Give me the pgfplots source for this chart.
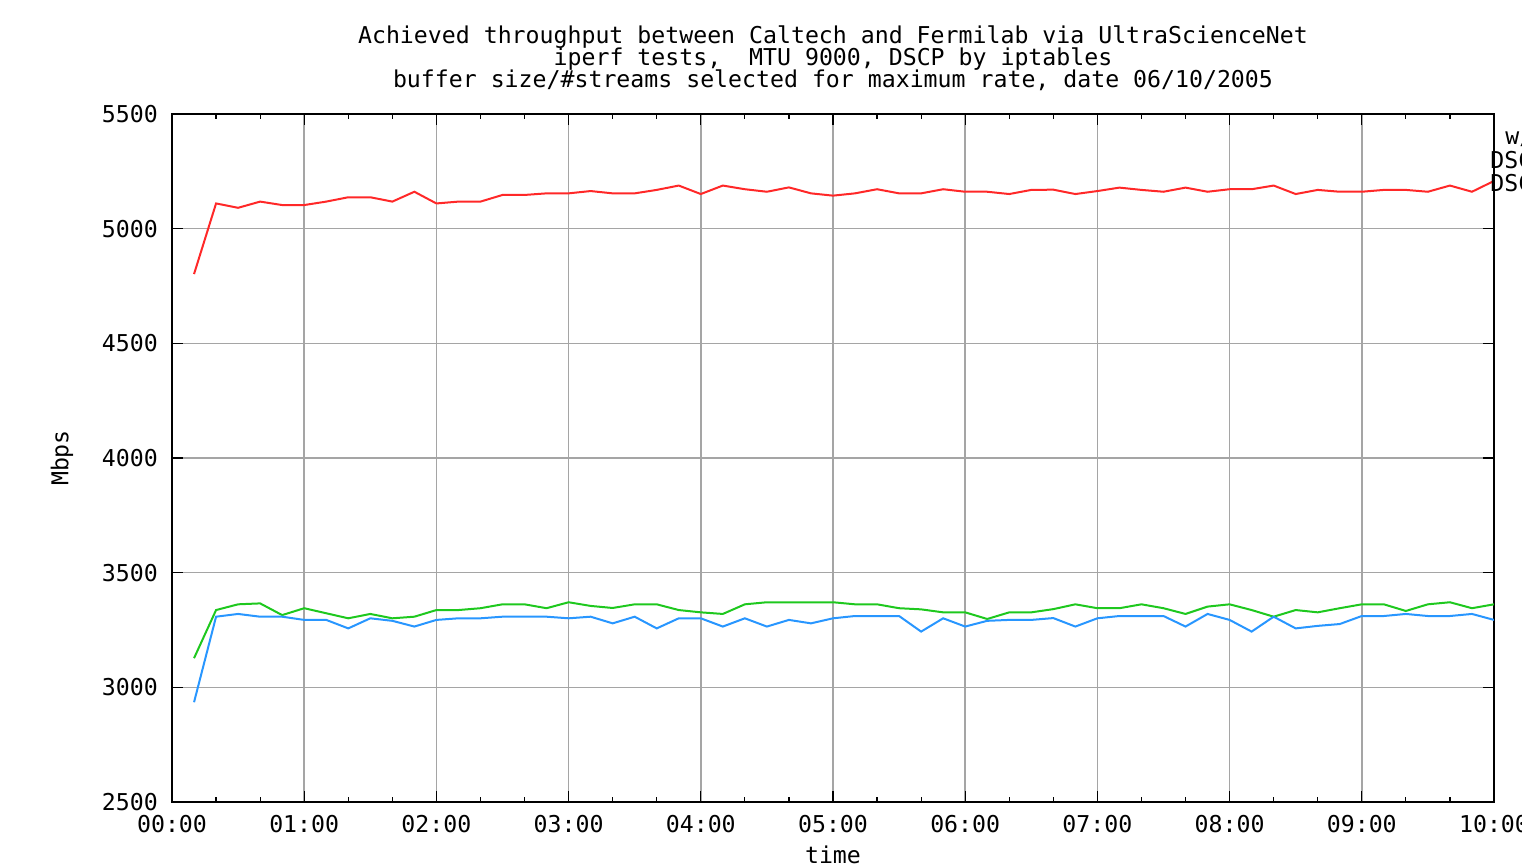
\documentclass[border=0pt]{standalone}
\usepackage{pgfplots}
\pgfplotsset{compat=1.18}
\usepackage{pgfplotstable}
\usepackage{fontspec}
\setmainfont{DejaVu Sans Mono}
\setmonofont{DejaVu Sans Mono}
\definecolor{cred}{RGB}{255,40,40}
\definecolor{cgreen}{RGB}{30,200,30}
\definecolor{cblue}{RGB}{40,150,255}
\definecolor{cgrid}{RGB}{165,165,165}
\pgfplotstableread{
t red green blue
10 4802 3127 2935
20 5110 3337 3308
30 5091 3362 3320
40 5118 3366 3308
50 5103 3315 3308
60 5103 3345 3294
70 5118 3323 3294
80 5137 3301 3257
90 5137 3320 3301
100 5118 3301 3290
110 5161 3308 3265
120 5110 3337 3294
130 5118 3337 3301
140 5118 3345 3301
150 5147 3362 3308
160 5147 3362 3308
170 5154 3345 3308
180 5154 3371 3301
190 5164 3355 3308
200 5154 3346 3279
210 5154 3362 3308
220 5169 3362 3257
230 5188 3337 3301
240 5151 3327 3301
250 5188 3320 3265
260 5172 3362 3301
270 5161 3371 3265
280 5180 3371 3294
290 5154 3371 3279
300 5144 3371 3301
310 5154 3362 3311
320 5172 3362 3311
330 5154 3345 3311
340 5154 3340 3243
350 5172 3327 3301
360 5161 3327 3265
370 5161 3298 3290
380 5151 3327 3294
390 5169 3327 3294
400 5170 3341 3302
410 5151 3362 3265
420 5164 3345 3301
430 5179 3345 3311
440 5169 3362 3311
450 5161 3345 3311
460 5179 3320 3265
470 5161 3352 3320
480 5172 3362 3294
490 5172 3337 3243
500 5188 3308 3308
510 5151 3337 3257
520 5169 3327 3268
530 5161 3345 3276
540 5161 3362 3311
550 5169 3362 3311
560 5169 3333 3320
570 5161 3362 3311
580 5188 3371 3311
590 5161 3345 3320
600 5208 3362 3294
}\datatable
\begin{document}
\fontsize{11.6}{11}\selectfont
\begin{tikzpicture}
\useasboundingbox (-86pt,-30.5pt) rectangle (675pt,401pt);
\clip (-86pt,-30.5pt) rectangle (675pt,401pt);
\begin{axis}[
  scale only axis,
  width=661pt, height=344pt,
  xmin=0, xmax=600, ymin=2500, ymax=5500,
  xtick={0,60,...,600},
  xticklabels={00:00,01:00,02:00,03:00,04:00,05:00,06:00,07:00,08:00,09:00,10:00},
  minor x tick num=2,
  ytick={2500,3000,...,5500},
  /pgf/number format/assume math mode=true,
  /pgf/number format/1000 sep={},
  tick label style={font=\fontsize{11.6}{11}\selectfont},
  xticklabel style={yshift=-2.5pt},
  yticklabel style={xshift=-3pt},
  xmajorgrids, ymajorgrids,
  major grid style={cgrid, line width=0.75pt},
  tick align=inside,
  major tick length=5.5pt,
  minor tick length=2.5pt,
  tick style={black, line width=0.6pt},
  axis line style={black, line width=0.9pt},
  title={Achieved throughput between Caltech and Fermilab via UltraScienceNet\\[-1.25pt]iperf tests,\ \ MTU 9000, DSCP by iptables\\[-1.25pt]buffer size/\#streams selected for maximum rate, date 06/10/2005},
  title style={align=center, font=\fontsize{11.6}{11}\selectfont, at={(axis description cs:0.5,1)}, anchor=center, yshift=22pt},
  xlabel={time},
  ylabel={Mbps},
  every axis x label/.style={at={(axis description cs:0.5,0)}, anchor=center, yshift=-26.5pt, font=\fontsize{11.6}{11}\selectfont},
  every axis y label/.style={at={(axis description cs:-0.0832,0.5)}, rotate=90, anchor=center, font=\fontsize{11.6}{11}\selectfont},
]
\addplot[cred, line width=1pt] table[x=t, y=red] {\datatable};
\addplot[cgreen, line width=1pt] table[x=t, y=green] {\datatable};
\addplot[cblue, line width=1pt] table[x=t, y=blue] {\datatable};
\end{axis}
\node[anchor=west, inner sep=0pt, font=\fontsize{11.6}{11}\selectfont] at (666.5pt,332.5pt) {w/o DSCP};
\node[anchor=west, inner sep=0pt, font=\fontsize{11.6}{11}\selectfont] at (659pt,321pt) {DSCP=0x20};
\node[anchor=west, inner sep=0pt, font=\fontsize{11.6}{11}\selectfont] at (659pt,309.5pt) {DSCP=0x10};
\end{tikzpicture}
\end{document}
